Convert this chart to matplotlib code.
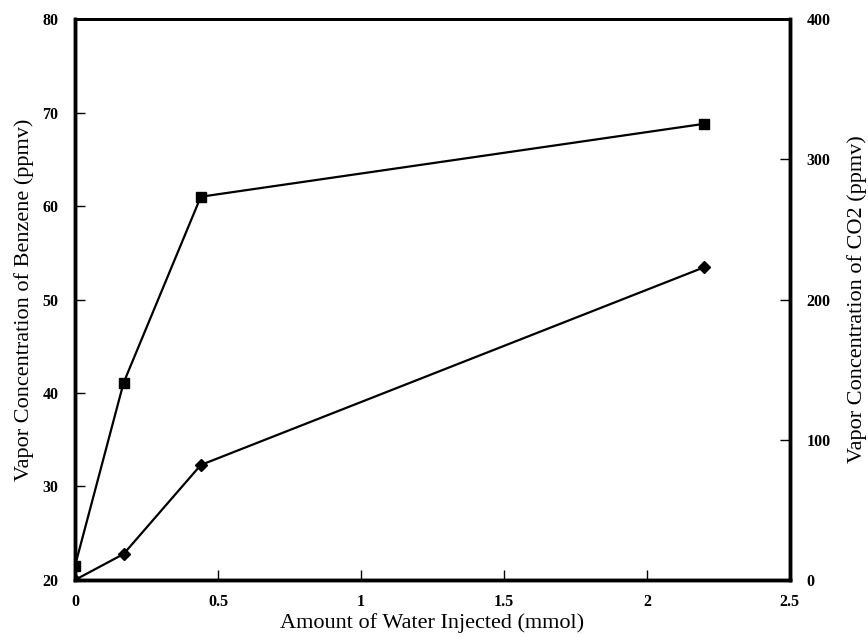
import matplotlib
matplotlib.use("Agg")
import matplotlib.pyplot as plt
from matplotlib.ticker import FormatStrFormatter

# amount of water injected (mmol)
water = [0, 0.17, 0.44, 2.2]
benzene = [21.5, 41.1, 61.0, 68.8]   # ppmv, left axis (squares)
co2 = [0, 18.5, 82, 223]             # ppmv, right axis (diamonds)

plt.rcParams["font.family"] = ["Liberation Serif", "DejaVu Serif"]

fig = plt.figure(figsize=(8.68, 6.38), dpi=100)
ax = fig.add_axes([0.0864, 0.091, 0.8236, 0.879])
ax2 = ax.twinx()

ax.plot(water, benzene, color="black", lw=1.6, marker="s", ms=7, zorder=3)
ax2.plot(water, co2, color="black", lw=1.6, marker="D", ms=6.5, zorder=3)

ax.set_xlim(0, 2.5)
ax.set_ylim(20, 80)
ax2.set_ylim(0, 400)
ax.set_xticks([0, 0.5, 1, 1.5, 2, 2.5])
ax.set_yticks([20, 30, 40, 50, 60, 70, 80])
ax2.set_yticks([0, 100, 200, 300, 400])
ax.xaxis.set_major_formatter(FormatStrFormatter("%g"))

for a in (ax, ax2):
    a.tick_params(direction="in", length=7, width=1, labelsize=11.5, pad=12)
    for lbl in a.get_xticklabels() + a.get_yticklabels():
        lbl.set_fontweight("bold")
    for s in a.spines.values():
        s.set_linewidth(2.5)
    a.spines["top"].set_linewidth(2)
ax.tick_params(axis="x", pad=10)

ax.set_xlabel("Amount of Water Injected (mmol)", fontsize=16, labelpad=2)
ax.set_ylabel("Vapor Concentration of Benzene (ppmv)", fontsize=16, labelpad=6)
ax2.set_ylabel("Vapor Concentration of CO2 (ppmv)", fontsize=16, labelpad=12)

fig.savefig("out.png", dpi=100)
